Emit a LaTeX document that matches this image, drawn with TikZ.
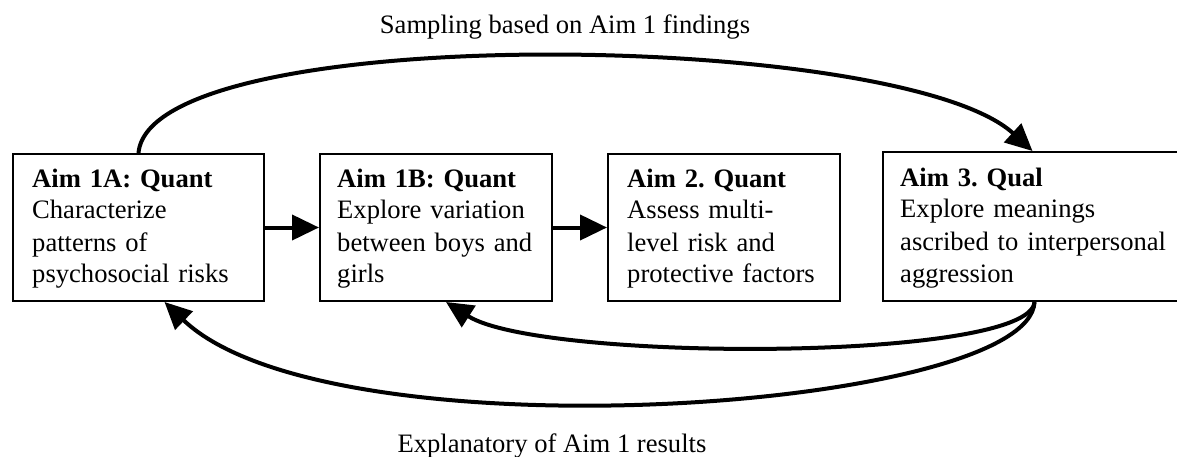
\documentclass[tikz,border=0pt]{standalone}
\usepackage{fontspec}
\setmainfont{Liberation Serif}
\usetikzlibrary{arrows.meta}
\begin{document}
\frenchspacing
\begin{tikzpicture}[x=1pt,y=-1pt,
  box/.style={draw, line width=2pt, rectangle, inner sep=0pt, anchor=north west},
  txt/.style={inner sep=0pt, anchor=base west, align=left, text width=#1,
              font=\fontsize{26.6}{32}\selectfont\frenchspacing},
  conn/.style={line width=4pt, -{Triangle[length=27pt,width=25pt]}},
  lbl/.style={inner sep=0pt, anchor=base, font=\fontsize{26.6}{32}\selectfont}]
\useasboundingbox (0,0) rectangle (1177,457);
% boxes
\node[box, minimum width=251pt, minimum height=147pt] (b1) at (12,153) {};
\node[box, minimum width=232pt, minimum height=147pt] (b2) at (319,153) {};
\node[box, minimum width=232pt, minimum height=146pt] (b3) at (607,153.5) {};
\node[box, minimum width=295pt, minimum height=149pt] (b4) at (882,151) {};
% texts
\node[txt=240pt] (t1) at (32,187) {\textbf{Aim 1A: Quant}\\Characterize\\patterns of\\psychosocial risks};
\node[txt=225pt] (t2) at (337,187) {\textbf{Aim 1B: Quant}\\Explore variation\\between boys and\\girls};
\node[txt=225pt] (t3) at (627,187) {\textbf{Aim 2. Quant}\\Assess multi-\\level risk and\\protective factors};
\node[txt=280pt] (t4) at (900,186) {\textbf{Aim 3. Qual}\\Explore meanings\\ascribed to interpersonal\\aggression};
% labels
\node[lbl] (top) at (565,34) {Sampling based on Aim 1 findings};
\node[lbl] (bot) at (552,452) {Explanatory of Aim 1 results};
% connectors
\draw[conn] (b1.east) -- (b2.west);
\draw[conn] (b2.east) -- (b3.west);
\draw[conn] (b1.north) .. controls (150,20) and (900,30) .. ([xshift=2pt]b4.north);
\draw[conn] ([xshift=4pt]b4.south) .. controls (1030,410) and (330,460) .. ([xshift=26pt]b1.south);
\draw[conn] ([xshift=4pt]b4.south) .. controls (1030,362) and (540,362) .. ([xshift=10pt]b2.south);
\end{tikzpicture}
\end{document}
